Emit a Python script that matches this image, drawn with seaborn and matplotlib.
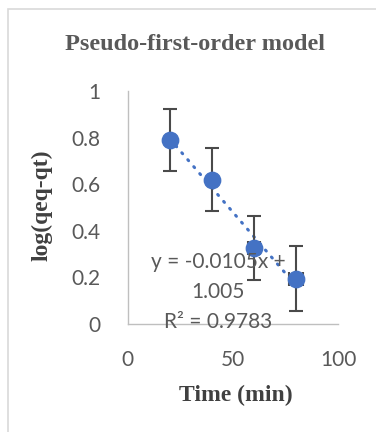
import matplotlib
matplotlib.use("Agg")
import matplotlib.pyplot as plt
import seaborn as sns
import numpy as np
from matplotlib.patches import Rectangle

# data
time_min = [20, 40, 60, 80]
log_q = [0.79, 0.62, 0.325, 0.195]
y_err = [0.135, 0.135, 0.137, 0.14]
x_err = [1.5, 1.5, 3, 3.5]
slope = -0.0105
intercept = 1.005
r2 = 0.9783

sns.set_style("white")
plt.rcParams['font.family'] = ['Lato', 'DejaVu Sans']

fig = plt.figure(figsize=(3.76, 4.32), dpi=100)
ax = fig.add_axes([0.340, 0.25, 0.559, 0.539])

# outer chart border
fig.patches.append(Rectangle((8 / 376, -0.1), 1.2, 1 - 9 / 432 + 0.1,
                             transform=fig.transFigure, fill=False,
                             edgecolor="#D9D9D9", lw=1.2))

blue = "#4472C4"

# trendline from the fitted equation
tx = np.array([time_min[0], time_min[-1]])
sns.lineplot(x=tx, y=slope * tx + intercept, ax=ax, color=blue, lw=2.2,
             linestyle=(0, (0.4, 2.6)), dash_capstyle="round", zorder=2)

ax.errorbar(time_min, log_q, yerr=y_err, xerr=x_err, fmt="none",
            ecolor="#4a4a4a", elinewidth=1.5, capsize=5, capthick=1.5, zorder=3)
sns.scatterplot(x=time_min, y=log_q, ax=ax, color=blue, s=140,
                edgecolor=blue, zorder=4)

ax.set_xlim(0, 100)
ax.set_ylim(0, 1)
ax.set_xticks([0, 50, 100])
ax.set_yticks([0, 0.2, 0.4, 0.6, 0.8, 1])
ax.set_yticklabels(["0", "0.2", "0.4", "0.6", "0.8", "1"])
ax.tick_params(axis="both", length=0, labelsize=15, colors="#595959")
ax.tick_params(axis="x", pad=19)
ax.tick_params(axis="y", pad=20)

for s in ["top", "right"]:
    ax.spines[s].set_visible(False)
for s in ["left", "bottom"]:
    ax.spines[s].set_color("#BFBFBF")
    ax.spines[s].set_linewidth(1)

ax.text(43, 0.137, f"y = {slope}x +\n{intercept}\nR² = {r2}", ha="center",
        va="center", fontsize=15, color="#595959", linespacing=1.62, zorder=5)

serif = ["Liberation Serif", "DejaVu Serif"]
fig.text(0.518, 1 - 45 / 432, "Pseudo-first-order model", ha="center", va="center",
         fontsize=17.5, fontweight="bold", color="#595959", family=serif)
fig.text(0.628, 1 - 395 / 432, "Time (min)", ha="center", va="center",
         fontsize=17, fontweight="bold", color="#404040", family=serif)
fig.text(42 / 376, 1 - 205 / 432, "log(qeq-qt)", ha="center", va="center",
         rotation=90, fontsize=17, fontweight="bold", color="#404040", family=serif)

fig.savefig("out.png", dpi=100)
